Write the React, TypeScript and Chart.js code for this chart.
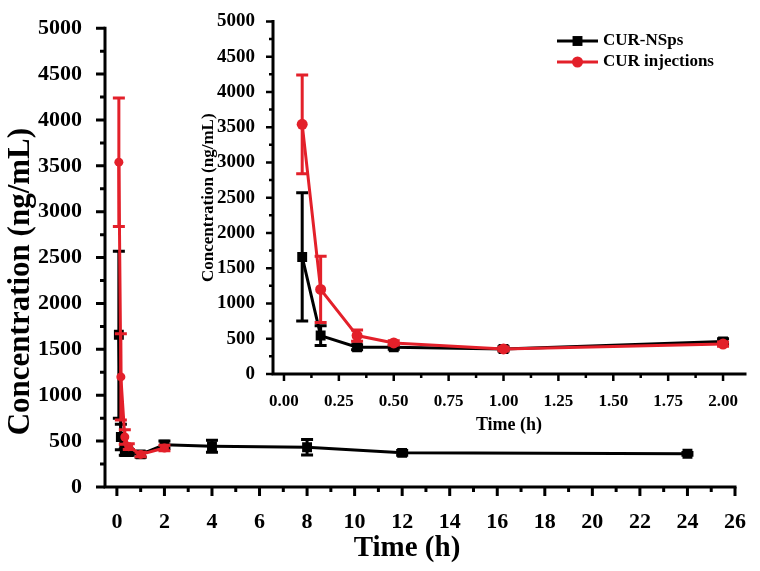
import React, { useEffect, useRef } from 'react';
import { Chart, registerables } from 'chart.js';

Chart.register(...registerables);

// ---- data ----
const seriesNames = ['CUR-NSps', 'CUR injections'];
const seriesColors = ['#000000', '#E3202A'];

const timeNSps = [0.083, 0.167, 0.333, 0.5, 1, 2, 4, 8, 12, 24];
const meanNSps = [1660, 545, 380, 380, 355, 460, 445, 433, 372, 362];
const sdNSps = [910, 140, 35, 30, 30, 40, 65, 85, 25, 15];

const timeInj = [0.083, 0.167, 0.333, 0.5, 1, 2];
const meanInj = [3540, 1200, 545, 440, 355, 425];
const sdInj = [700, 470, 80, 30, 25, 30];

const mainXRange = [-0.5, 26];
const mainXStep = 1;
const mainXLabelEvery = 2;
const yRange = [0, 5000];
const yStep = 250;
const yLabelEvery = 500;
const insetXRange = [-0.05, 2.1];
const insetXStep = 0.125;
const insetXLabelEvery = 0.25;
const insetMaxTime = 2;

const mainXTitle = 'Time (h)';
const yTitle = 'Concentration (ng/mL)';
const insetXTitle = 'Time (h)';

const FONT = "'Liberation Serif', 'Times New Roman', Times, serif";

const isMultiple = (v: number, m: number) => Math.abs(v / m - Math.round(v / m)) < 1e-6;

const toPoints = (t: number[], m: number[], maxT = Infinity) =>
  t.map((x, i) => ({ x, y: m[i] })).filter((p) => p.x <= maxT);
const toErr = (t: number[], s: number[], maxT = Infinity) => s.filter((_, i) => t[i] <= maxT);

const errorBarPlugin = {
  id: 'errorBars',
  afterDatasetDraw(chart: any, args: any, opts: any) {
    const ds = chart.data.datasets[args.index];
    const errs = ds.errorBars as number[] | undefined;
    if (!errs) return;
    const { ctx, scales } = chart;
    const x = scales.x;
    const y = scales.y;
    ctx.save();
    ctx.strokeStyle = ds.borderColor;
    ctx.lineWidth = opts.width;
    ctx.lineCap = 'butt';
    ds.data.forEach((p: any, i: number) => {
      const e = errs[i];
      if (!e) return;
      const px = x.getPixelForValue(p.x);
      const top = y.getPixelForValue(p.y + e);
      const bot = y.getPixelForValue(p.y - e);
      const h = opts.cap / 2;
      ctx.beginPath();
      ctx.moveTo(px, top);
      ctx.lineTo(px, bot);
      ctx.moveTo(px - h, top);
      ctx.lineTo(px + h, top);
      ctx.moveTo(px - h, bot);
      ctx.lineTo(px + h, bot);
      ctx.stroke();
    });
    ctx.restore();
  },
};

const axesPlugin = {
  id: 'axesTicks',
  beforeDatasetsDraw(chart: any, _a: any, opts: any) {
    const { ctx, chartArea: ca, scales } = chart;
    const x = scales.x;
    const y = scales.y;
    ctx.save();
    ctx.strokeStyle = '#000';
    ctx.lineWidth = opts.lineWidth;
    ctx.lineCap = 'square';
    ctx.beginPath();
    ctx.moveTo(ca.left, ca.top);
    ctx.lineTo(ca.left, ca.bottom);
    ctx.lineTo(ca.right, ca.bottom);
    ctx.stroke();
    ctx.lineCap = 'butt';
    ctx.lineWidth = opts.tickWidth;
    ctx.beginPath();
    x.ticks.forEach((t: any) => {
      const px = x.getPixelForValue(t.value);
      const len = t.label !== '' ? opts.major : opts.minor;
      ctx.moveTo(px, ca.bottom);
      ctx.lineTo(px, ca.bottom + len);
    });
    y.ticks.forEach((t: any) => {
      const py = y.getPixelForValue(t.value);
      const len = t.label !== '' ? opts.major : opts.minor;
      ctx.moveTo(ca.left, py);
      ctx.lineTo(ca.left - len, py);
    });
    ctx.stroke();
    ctx.restore();
  },
};

// axis titles placed relative to the chart area
const titlesPlugin = {
  id: 'freeTitles',
  afterDraw(chart: any, _a: any, opts: any) {
    if (!opts || !opts.items) return;
    const { ctx, chartArea: ca } = chart;
    ctx.save();
    ctx.fillStyle = '#000';
    ctx.textAlign = 'center';
    ctx.textBaseline = 'middle';
    opts.items.forEach((it: any) => {
      ctx.save();
      ctx.font = `bold ${it.size}px ${FONT}`;
      if (it.vertical) {
        const cy = (ca.top + ca.bottom) / 2 + it.shift;
        ctx.translate(it.pos, cy);
        ctx.rotate(-Math.PI / 2);
        ctx.fillText(it.text, 0, 0);
      } else {
        const cx = (ca.left + ca.right) / 2 + it.shift;
        ctx.fillText(it.text, cx, it.pos);
      }
      ctx.restore();
    });
    ctx.restore();
  },
};

const legendPlugin = {
  id: 'seriesLegend',
  afterDraw(chart: any, _a: any, opts: any) {
    if (!opts || !opts.show) return;
    const ctx = chart.ctx;
    ctx.save();
    chart.data.datasets.forEach((ds: any, i: number) => {
      const yy = opts.y + i * opts.dy;
      ctx.strokeStyle = ds.borderColor;
      ctx.fillStyle = ds.backgroundColor;
      ctx.lineWidth = ds.borderWidth;
      ctx.beginPath();
      ctx.moveTo(opts.x, yy);
      ctx.lineTo(opts.x + opts.len, yy);
      ctx.stroke();
      const cx = opts.x + opts.len / 2;
      const r = ds.pointRadius;
      ctx.beginPath();
      if (ds.pointStyle === 'rect') {
        const s = Math.SQRT1_2 * r;
        ctx.rect(cx - s, yy - s, 2 * s, 2 * s);
      } else {
        ctx.arc(cx, yy, r, 0, Math.PI * 2);
      }
      ctx.fill();
      ctx.fillStyle = '#000';
      ctx.font = `bold ${opts.fontSize}px ${FONT}`;
      ctx.textBaseline = 'middle';
      ctx.textAlign = 'left';
      ctx.fillText(ds.label, opts.x + opts.len + opts.gap, yy);
    });
    ctx.restore();
  },
};

function makeDatasets(inset: boolean) {
  const maxT = inset ? insetMaxTime : Infinity;
  return [
    {
      label: seriesNames[0],
      data: toPoints(timeNSps, meanNSps, maxT),
      errorBars: toErr(timeNSps, sdNSps, maxT),
      borderColor: seriesColors[0],
      backgroundColor: seriesColors[0],
      borderWidth: 3,
      pointStyle: 'rect',
      pointRadius: 7,
      pointBorderWidth: 0,
      tension: 0,
      order: 1,
    },
    {
      label: seriesNames[1],
      data: toPoints(timeInj, meanInj, maxT),
      errorBars: toErr(timeInj, sdInj, maxT),
      borderColor: seriesColors[1],
      backgroundColor: seriesColors[1],
      borderWidth: 3,
      pointStyle: 'circle',
      pointRadius: inset ? 5.5 : 4.5,
      pointBorderWidth: 0,
      tension: 0,
      order: 0,
    },
  ];
}

function mainConfig(): any {
  return {
    type: 'line',
    data: { datasets: makeDatasets(false) },
    plugins: [axesPlugin, errorBarPlugin, legendPlugin, titlesPlugin],
    options: {
      responsive: false,
      animation: false,
      layout: { padding: { top: 17, right: 16, left: 0, bottom: 0 } },
      plugins: {
        legend: { display: false },
        tooltip: { enabled: false },
        errorBars: { width: 3, cap: 12 },
        axesTicks: { lineWidth: 3, tickWidth: 3, major: 9, minor: 5 },
        seriesLegend: { show: false },
        freeTitles: {
          items: [
            { text: yTitle, vertical: true, pos: 21, shift: 24, size: 31 },
            { text: mainXTitle, vertical: false, pos: 549, shift: -13, size: 29 },
          ],
        },
      },
      scales: {
        x: {
          type: 'linear',
          min: mainXRange[0],
          max: mainXRange[1],
          grid: { display: false },
          border: { display: false },
          ticks: {
            stepSize: mainXStep,
            includeBounds: false,
            autoSkip: false,
            maxRotation: 0,
            padding: 14,
            color: '#000',
            font: { family: FONT, size: 22, weight: 'bold' },
            callback: (v: number) => (isMultiple(v, mainXLabelEvery) ? String(Math.round(v)) : ''),
          },
          title: { display: false },
          afterFit: (s: any) => {
            s.height = 84;
          },
        },
        y: {
          type: 'linear',
          min: yRange[0],
          max: yRange[1],
          grid: { display: false },
          border: { display: false },
          ticks: {
            stepSize: yStep,
            autoSkip: false,
            padding: 15,
            color: '#000',
            font: { family: FONT, size: 22, weight: 'bold' },
            callback: (v: number) => (isMultiple(v, yLabelEvery) ? String(Math.round(v)) : ''),
          },
          title: { display: false },
          afterFit: (s: any) => {
            s.width = 105;
          },
        },
      },
    },
  };
}

function insetConfig(): any {
  return {
    type: 'line',
    data: { datasets: makeDatasets(true) },
    plugins: [axesPlugin, errorBarPlugin, legendPlugin],
    options: {
      responsive: false,
      animation: false,
      layout: { padding: { top: 17, right: 15, left: 0, bottom: 0 } },
      plugins: {
        legend: { display: false },
        tooltip: { enabled: false },
        errorBars: { width: 3, cap: 12 },
        axesTicks: { lineWidth: 3, tickWidth: 2.5, major: 7, minor: 4 },
        seriesLegend: { show: true, x: 377, y: 41, dy: 21, len: 41, gap: 5, fontSize: 17 },
      },
      scales: {
        x: {
          type: 'linear',
          min: insetXRange[0],
          max: insetXRange[1],
          grid: { display: false },
          border: { display: false },
          ticks: {
            stepSize: insetXStep,
            includeBounds: false,
            autoSkip: false,
            maxRotation: 0,
            padding: 9,
            color: '#000',
            font: { family: FONT, size: 17, weight: 'bold' },
            callback: (v: number) => (isMultiple(v, insetXLabelEvery) ? v.toFixed(2) : ''),
          },
          title: {
            display: true,
            text: insetXTitle,
            color: '#000',
            font: { family: FONT, size: 18, weight: 'bold' },
            padding: { top: 0, bottom: 9 },
          },
          afterFit: (s: any) => {
            s.height = 71;
          },
        },
        y: {
          type: 'linear',
          min: yRange[0],
          max: yRange[1],
          grid: { display: false },
          border: { display: false },
          ticks: {
            stepSize: yStep,
            autoSkip: false,
            padding: 10,
            color: '#000',
            font: { family: FONT, size: 19, weight: 'bold' },
            callback: (v: number) => (isMultiple(v, yLabelEvery) ? String(Math.round(v)) : ''),
          },
          title: {
            display: true,
            text: yTitle,
            color: '#000',
            font: { family: FONT, size: 17, weight: 'bold' },
            padding: { top: 18, bottom: 0 },
          },
          afterFit: (s: any) => {
            s.width = 93;
          },
        },
      },
    },
  };
}

export default function App() {
  const mainRef = useRef<HTMLCanvasElement>(null);
  const insetRef = useRef<HTMLCanvasElement>(null);

  useEffect(() => {
    const main = new Chart(mainRef.current as HTMLCanvasElement, mainConfig());
    const inset = new Chart(insetRef.current as HTMLCanvasElement, insetConfig());
    return () => {
      main.destroy();
      inset.destroy();
    };
  }, []);

  return (
    <div style={{ position: 'fixed', left: 0, top: 0, width: 760, height: 571, background: '#fff' }}>
      <canvas
        ref={mainRef}
        width={760}
        height={571}
        style={{ position: 'absolute', left: 0, top: 0, width: 760, height: 571 }}
      />
      <canvas
        ref={insetRef}
        width={580}
        height={445}
        style={{ position: 'absolute', left: 180, top: 0, width: 580, height: 445 }}
      />
    </div>
  );
}
